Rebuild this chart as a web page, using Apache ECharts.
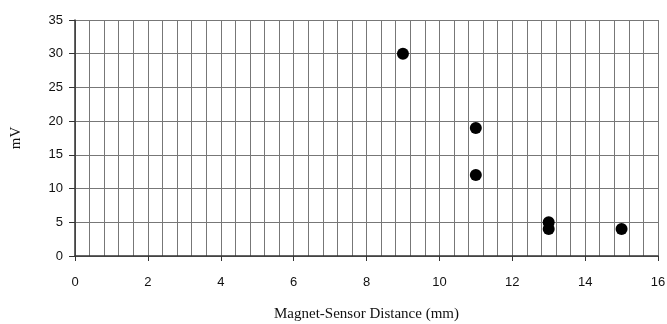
<!DOCTYPE html>
<html>
<head>
<meta charset="utf-8">
<script src="https://cdn.jsdelivr.net/npm/echarts@6/dist/echarts.min.js"></script>
<style>
  html, body { margin: 0; padding: 0; background: #fff; }
  #chart { width: 667px; height: 324px; }
</style>
</head>
<body>
<div id="chart"></div>
<script>
// distance (mm) vs signal (mV)
const distance = [9, 11, 11, 13, 13, 15]
const millivolts = [30, 19, 12, 5, 4, 4]

const points = distance.map((d, i) => [d, millivolts[i]])

const chart = echarts.init(document.getElementById('chart'))
chart.setOption({
  animation: false,
  grid: { left: 75, right: 9, top: 20, bottom: 68, outerBoundsMode: 'none' },
  xAxis: {
    type: 'value',
    min: 0,
    max: 16,
    interval: 2,
    name: 'Magnet-Sensor Distance (mm)',
    nameLocation: 'middle',
    nameGap: 51,
    nameTextStyle: { fontFamily: 'Liberation Serif', fontSize: 15, color: '#111' },
    axisLine: { lineStyle: { color: '#333', width: 1.5 } },
    axisTick: { show: true, length: 5, lineStyle: { color: '#333' } },
    axisLabel: { fontFamily: 'Liberation Sans', fontSize: 13, color: '#111', margin: 20 },
    splitLine: { show: true, lineStyle: { color: '#777', width: 1 } },
    minorTick: { show: false, splitNumber: 5 },
    minorSplitLine: { show: true, lineStyle: { color: '#777', width: 1 } }
  },
  yAxis: {
    type: 'value',
    min: 0,
    max: 35,
    interval: 5,
    name: 'mV',
    nameLocation: 'middle',
    nameGap: 51,
    nameTextStyle: { fontFamily: 'Liberation Serif', fontSize: 15, color: '#111' },
    axisLine: { show: true, lineStyle: { color: '#333', width: 1.5 } },
    axisTick: { show: true, length: 6, lineStyle: { color: '#333' } },
    axisLabel: { fontFamily: 'Liberation Sans', fontSize: 13, color: '#111', margin: 12 },
    splitLine: { show: true, lineStyle: { color: '#777', width: 1 } }
  },
  series: [{
    type: 'scatter',
    data: points,
    symbol: 'circle',
    symbolSize: 12,
    itemStyle: { color: '#000', opacity: 1 }
  }]
})
</script>
</body>
</html>
